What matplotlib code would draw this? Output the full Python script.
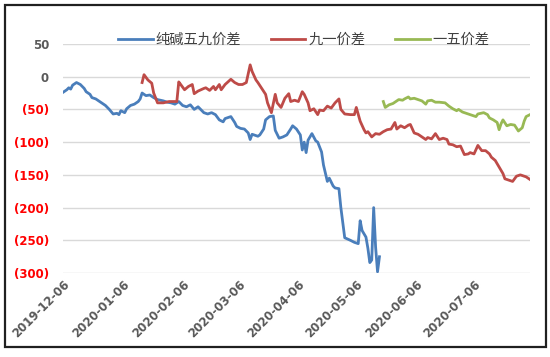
import matplotlib
matplotlib.use("Agg")
import matplotlib.pyplot as plt
from matplotlib.patches import Rectangle
from matplotlib.ticker import FuncFormatter
import pandas as pd

plt.rcParams['font.family'] = ['Noto Sans CJK SC', 'DejaVu Sans']

start_date = "2019-12-06"

# day offsets from start_date and values
blue_days = [0, 2, 3, 4, 5, 7, 9, 11, 12, 14, 15, 17, 19, 20, 22, 24, 26, 28, 29, 30, 32, 33, 35, 37, 39, 40,
             41, 43, 45, 47, 49, 52, 54, 56, 58, 60, 62, 64, 66, 68, 70, 73, 75, 77, 79, 81, 83, 84, 87, 89,
             90, 92, 94, 96, 97, 98, 101, 102, 104, 105, 107, 109, 110, 112, 114, 116, 118, 119, 121, 123,
             124, 125, 126, 127, 129, 131, 132, 134, 135, 137, 138, 140, 141, 143, 144, 146, 149, 151, 153,
             154, 155, 157, 158, 159, 160, 161, 162, 163, 164]
blue_vals = [-24, -20, -17, -19, -13, -9, -12, -18, -23, -27, -32, -34, -38, -40, -44, -50, -57, -56, -58, -52,
             -55, -49, -44, -42, -38, -34, -25, -29, -28, -32, -35, -37, -39, -40, -42, -38, -44, -46, -43, -50,
             -46, -55, -57, -55, -58, -66, -69, -64, -61, -70, -76, -79, -80, -86, -96, -88, -91, -89, -80, -66,
             -61, -60, -82, -94, -92, -89, -80, -75, -80, -89, -112, -100, -116, -97, -87, -98, -100, -115,
             -135, -160, -155, -167, -170, -171, -200, -246, -250, -253, -255, -220, -235, -245, -262, -284,
             -280, -200, -260, -298, -275]

red_days = [41, 42, 44, 46, 47, 49, 52, 55, 59, 60, 61, 63, 65, 67, 68, 70, 73, 74, 76, 78, 79, 81, 82, 84,
            87, 89, 91, 93, 95, 97, 98, 100, 101, 103, 105, 106, 108, 110, 111, 113, 115, 117, 118, 120, 122,
            124, 125, 127, 128, 130, 132, 133, 135, 137, 139, 141, 143, 144, 146, 149, 151, 152, 154, 156, 157,
            158, 160, 162, 164, 166, 168, 170, 172, 173, 175, 177, 179, 180, 182, 184, 186, 188, 189, 191, 193,
            195, 197, 199, 200, 202, 204, 206, 208, 210, 211, 213, 215, 217, 219, 221, 222, 224, 226, 228, 229,
            231, 233, 235, 237, 239, 240, 242]
red_vals = [-9, 3, -5, -10, -25, -40, -40, -38, -38, -8, -12, -20, -15, -12, -26, -22, -18, -17, -21, -15, -20,
            -12, -20, -12, -4, -9, -12, -12, -9, 18, 8, -5, -9, -18, -27, -40, -55, -27, -40, -47, -33, -26, -38,
            -36, -38, -23, -27, -40, -52, -49, -58, -51, -52, -45, -48, -40, -34, -50, -57, -58, -58, -47, -68,
            -81, -86, -84, -92, -87, -88, -84, -81, -80, -70, -80, -75, -78, -74, -73, -86, -88, -92, -96, -93,
            -95, -87, -96, -94, -96, -103, -104, -107, -106, -119, -118, -116, -118, -105, -113, -113, -118,
            -123, -128, -138, -148, -156, -158, -160, -152, -150, -152, -153, -157]

green_days = [166, 167, 169, 171, 174, 176, 177, 179, 180, 182, 184, 186, 188, 189, 191, 193, 195, 198, 200,
              202, 204, 205, 207, 210, 212, 214, 215, 218, 220, 221, 223, 225, 226, 227, 228, 230, 232, 234,
              236, 238, 239, 240, 242]
green_vals = [-38, -47, -43, -41, -35, -36, -34, -31, -34, -33, -35, -37, -42, -37, -36, -39, -39, -40, -45,
              -49, -52, -50, -54, -57, -59, -61, -57, -55, -58, -63, -66, -70, -81, -72, -66, -75, -73, -74,
              -83, -78, -68, -61, -58]

series_names = ["纯碱五九价差", "九一价差", "一五价差"]
tick_dates = ["2019-12-06", "2020-01-06", "2020-02-06", "2020-03-06", "2020-04-06",
              "2020-05-06", "2020-06-06", "2020-07-06"]
y_ticks = [50, 0, -50, -100, -150, -200, -250, -300]

t0 = pd.Timestamp(start_date)
def to_dates(days):
    return t0 + pd.to_timedelta(days, unit="D")

fig = plt.figure(figsize=(5.5, 3.57), dpi=100)
ax = fig.add_axes([0.1145, 0.235, 0.9636 - 0.1145, 0.877 - 0.235])

colors = ["#4A7EBB", "#BE4B48", "#98B954"]
for d, v, c, n in zip([blue_days, red_days, green_days], [blue_vals, red_vals, green_vals], colors, series_names):
    ax.plot(to_dates(d), v, color=c, lw=2.0, label=n, solid_joinstyle="round")

ax.set_ylim(-300, 50)
ax.set_xlim(t0, to_dates([242])[0])
ax.set_yticks(y_ticks)
ax.yaxis.set_major_formatter(FuncFormatter(lambda v, p: f"({abs(int(v))})" if v < 0 else f"{int(v)}"))
ax.grid(axis="y", color="#D9D9D9", lw=1)
ax.set_axisbelow(True)
for s in ax.spines.values():
    s.set_visible(False)
ax.tick_params(length=0)
ax.tick_params(axis="y", pad=10)

ax.set_xticks(pd.to_datetime(tick_dates))
ax.set_xticklabels(tick_dates, rotation=45, ha="right", rotation_mode="anchor",
                   fontsize=8.5, fontweight="bold", color="#595959", family="DejaVu Sans")
for lbl in ax.get_yticklabels():
    lbl.set_fontsize(8.5)
    lbl.set_fontweight("bold")
    lbl.set_family("DejaVu Sans")
for lbl, v in zip(ax.get_yticklabels(), y_ticks):
    lbl.set_color("#FF0000" if v < 0 else "#595959")

leg = ax.legend(loc="center", bbox_to_anchor=(0.516, 1.017), ncol=3, frameon=False,
                fontsize=10.3, handlelength=2.4, columnspacing=2.1, handletextpad=0.2,
                borderaxespad=0, borderpad=0)
for t in leg.get_texts():
    t.set_color("#404040")

fig.patches.append(Rectangle((5 / 550, 1 - 347 / 357), 541 / 550, 342 / 357,
                             transform=fig.transFigure, fill=False, edgecolor="#202020", lw=1.6))

fig.savefig("out.png", dpi=100)
